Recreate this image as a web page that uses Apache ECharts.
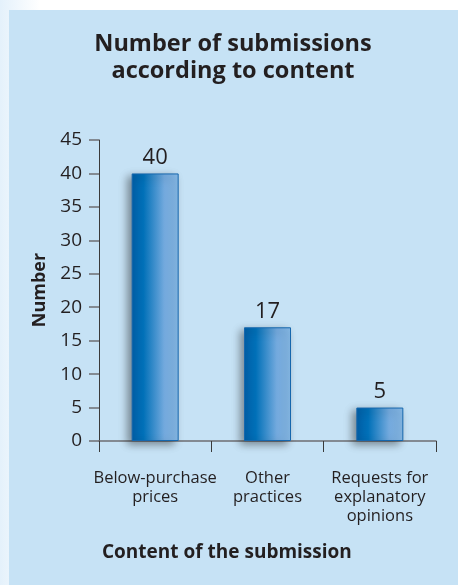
<!DOCTYPE html>
<html>
<head>
<meta charset="utf-8">
<script src="https://cdn.jsdelivr.net/npm/echarts@6/dist/echarts.min.js"></script>
<style>
  html, body { margin: 0; padding: 0; background: #ffffff; }
  #chart { width: 458px; height: 585px; }
</style>
</head>
<body>
<div id="chart"></div>
<script>
// Submissions by content
const categories = ['Below-purchase\nprices', 'Other\npractices', 'Requests for\nexplanatory\nopinions'];
const submissions = [40, 17, 5];
const yTicks = { min: 0, max: 45, interval: 5 };

const FONT = "'Open Sans', 'Noto Sans', sans-serif";
const INK = '#231f20';

const chart = echarts.init(document.getElementById('chart'), null, { renderer: 'canvas' });

const barFill = new echarts.graphic.LinearGradient(0, 0, 1, 0, [
  { offset: 0, color: '#005ea6' },
  { offset: 0.25, color: '#0070b8' },
  { offset: 0.7, color: '#74aade' },
  { offset: 1, color: '#86b9e6' }
]);

chart.setOption({
  backgroundColor: '#ffffff',
  animation: false,
  textStyle: { fontFamily: FONT, color: INK },
  graphic: [
    {
      type: 'rect', z: -10, silent: true,
      shape: { x: 0, y: 0, width: 40, height: 585 },
      style: {
        fill: new echarts.graphic.LinearGradient(0, 0, 1, 0, [
          { offset: 0, color: '#e4f1fb' },
          { offset: 1, color: '#ffffff' }
        ])
      }
    },
    {
      type: 'rect', z: -5, silent: true,
      shape: { x: 9, y: 10, width: 449, height: 575 },
      style: { fill: '#c6e2f5' }
    },
    {
      type: 'text', silent: true,
      style: {
        x: 233, y: 58, text: 'Number of submissions\naccording to content',
        align: 'center', verticalAlign: 'middle',
        font: "bold 23.5px 'Open Sans', 'Noto Sans', sans-serif",
        lineHeight: 27, fill: INK
      }
    },
    {
      type: 'text', silent: true,
      style: {
        x: 102, y: 553, text: 'Content of the submission',
        align: 'left', verticalAlign: 'middle',
        font: "bold 19px 'Open Sans', 'Noto Sans', sans-serif",
        fill: INK
      }
    },
    {
      type: 'text', silent: true, rotation: Math.PI / 2,
      x: 40, y: 290,
      style: {
        x: 0, y: 0, text: 'Number',
        align: 'center', verticalAlign: 'middle',
        font: "bold 18px 'Open Sans', 'Noto Sans', sans-serif",
        fill: INK
      }
    }
  ],
  grid: { left: 99, right: 22, top: 140, bottom: 144, containLabel: false },
  xAxis: {
    type: 'category',
    data: categories,
    boundaryGap: true,
    axisLine: { show: true, lineStyle: { color: '#6d6e71', width: 1.5 } },
    axisTick: { show: true, inside: false, length: 11, alignWithLabel: false, lineStyle: { color: '#3a3a3a', width: 1 } },
    axisLabel: {
      interval: 0, margin: 28,
      fontFamily: FONT, fontSize: 16.5, lineHeight: 19, color: INK, align: 'center'
    }
  },
  yAxis: {
    type: 'value',
    min: yTicks.min, max: yTicks.max, interval: yTicks.interval,
    splitLine: { show: false },
    axisLine: { show: true, lineStyle: { color: '#3a3a3a', width: 1 } },
    axisTick: { show: true, inside: false, length: 10, lineStyle: { color: '#6d6e71', width: 1.5 } },
    axisLabel: { margin: 17, fontFamily: FONT, fontSize: 19, color: INK }
  },
  series: [{
    type: 'bar',
    data: submissions,
    barWidth: 47,
    itemStyle: {
      color: barFill,
      borderColor: '#1667ad',
      borderWidth: 1,
      shadowColor: 'rgba(0, 0, 0, 0.4)',
      shadowBlur: 8,
      shadowOffsetX: -4,
      shadowOffsetY: 3
    },
    label: {
      show: true, position: 'top', distance: 5,
      fontFamily: FONT, fontSize: 22, color: INK
    }
  }]
});
</script>
</body>
</html>
